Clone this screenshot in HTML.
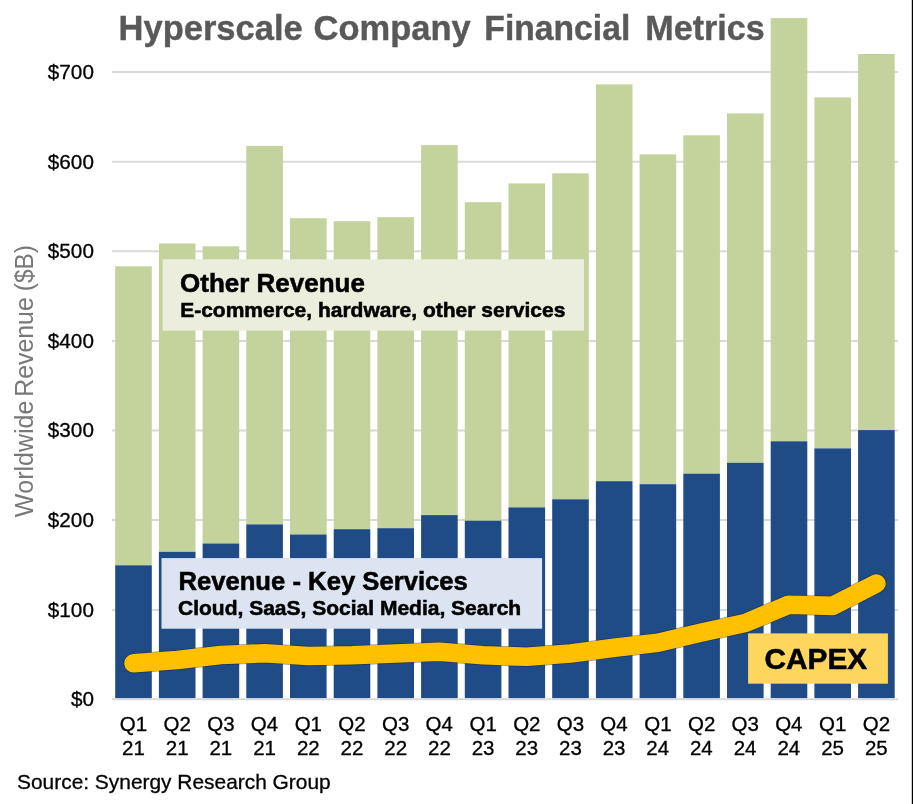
<!DOCTYPE html>
<html><head><meta charset="utf-8"><title>Hyperscale Company Financial Metrics</title>
<style>
html,body{margin:0;padding:0;background:#fff;}
body{width:913px;height:804px;overflow:hidden;}
svg{display:block;}
text{font-family:"Liberation Sans",Arial,sans-serif;font-kerning:none;}
.b{stroke:#000;stroke-width:0.55px;}
.t{stroke:#595959;stroke-width:0.4px;}
.r{stroke:#000;stroke-width:0.3px;}
</style></head><body>
<svg width="913" height="804" viewBox="0 0 913 804">
<rect x="0" y="0" width="913" height="804" fill="#fff"/>

<line x1="112" y1="72.0" x2="898" y2="72.0" stroke="#D9D9D9" stroke-width="2"/>
<line x1="112" y1="161.8" x2="898" y2="161.8" stroke="#D9D9D9" stroke-width="2"/>
<line x1="112" y1="251.2" x2="898" y2="251.2" stroke="#D9D9D9" stroke-width="2"/>
<line x1="112" y1="340.9" x2="898" y2="340.9" stroke="#D9D9D9" stroke-width="2"/>
<line x1="112" y1="430.6" x2="898" y2="430.6" stroke="#D9D9D9" stroke-width="2"/>
<line x1="112" y1="520.0" x2="898" y2="520.0" stroke="#D9D9D9" stroke-width="2"/>
<line x1="112" y1="609.9" x2="898" y2="609.9" stroke="#D9D9D9" stroke-width="2"/>
<rect x="115.2" y="266.3" width="36.6" height="299.0" fill="#C4D29B"/>
<rect x="115.2" y="565.3" width="36.6" height="133.0" fill="#1F4B86"/>
<rect x="158.9" y="243.5" width="36.6" height="308.3" fill="#C4D29B"/>
<rect x="158.9" y="551.8" width="36.6" height="146.5" fill="#1F4B86"/>
<rect x="202.6" y="246.3" width="36.6" height="297.2" fill="#C4D29B"/>
<rect x="202.6" y="543.5" width="36.6" height="154.8" fill="#1F4B86"/>
<rect x="246.3" y="145.9" width="36.6" height="378.5" fill="#C4D29B"/>
<rect x="246.3" y="524.4" width="36.6" height="173.9" fill="#1F4B86"/>
<rect x="290.0" y="218.2" width="36.6" height="316.3" fill="#C4D29B"/>
<rect x="290.0" y="534.5" width="36.6" height="163.8" fill="#1F4B86"/>
<rect x="333.7" y="221.2" width="36.6" height="308.0" fill="#C4D29B"/>
<rect x="333.7" y="529.2" width="36.6" height="169.1" fill="#1F4B86"/>
<rect x="377.4" y="217.2" width="36.6" height="311.0" fill="#C4D29B"/>
<rect x="377.4" y="528.2" width="36.6" height="170.1" fill="#1F4B86"/>
<rect x="421.1" y="145.1" width="36.6" height="370.0" fill="#C4D29B"/>
<rect x="421.1" y="515.1" width="36.6" height="183.2" fill="#1F4B86"/>
<rect x="464.8" y="202.2" width="36.6" height="318.5" fill="#C4D29B"/>
<rect x="464.8" y="520.7" width="36.6" height="177.6" fill="#1F4B86"/>
<rect x="508.5" y="183.4" width="36.6" height="324.0" fill="#C4D29B"/>
<rect x="508.5" y="507.4" width="36.6" height="190.9" fill="#1F4B86"/>
<rect x="552.2" y="173.3" width="36.6" height="326.0" fill="#C4D29B"/>
<rect x="552.2" y="499.3" width="36.6" height="199.0" fill="#1F4B86"/>
<rect x="595.9" y="84.4" width="36.6" height="396.8" fill="#C4D29B"/>
<rect x="595.9" y="481.2" width="36.6" height="217.1" fill="#1F4B86"/>
<rect x="639.6" y="154.4" width="36.6" height="329.8" fill="#C4D29B"/>
<rect x="639.6" y="484.2" width="36.6" height="214.1" fill="#1F4B86"/>
<rect x="683.3" y="135.3" width="36.6" height="338.4" fill="#C4D29B"/>
<rect x="683.3" y="473.7" width="36.6" height="224.6" fill="#1F4B86"/>
<rect x="727.0" y="113.4" width="36.6" height="349.4" fill="#C4D29B"/>
<rect x="727.0" y="462.8" width="36.6" height="235.5" fill="#1F4B86"/>
<rect x="770.7" y="18.1" width="36.6" height="423.2" fill="#C4D29B"/>
<rect x="770.7" y="441.3" width="36.6" height="257.0" fill="#1F4B86"/>
<rect x="814.4" y="97.4" width="36.6" height="351.0" fill="#C4D29B"/>
<rect x="814.4" y="448.4" width="36.6" height="249.9" fill="#1F4B86"/>
<rect x="858.1" y="54.0" width="36.6" height="376.1" fill="#C4D29B"/>
<rect x="858.1" y="430.1" width="36.6" height="268.2" fill="#1F4B86"/>
<line x1="112" y1="699.3" x2="898" y2="699.3" stroke="#D9D9D9" stroke-width="2"/>
<rect x="162.6" y="259.3" width="421.4" height="71.3" fill="#EBEEDC"/>
<text x="180.03" y="291.7" font-size="26" font-weight="bold" fill="#000000" class="b">Other Revenue</text>
<text x="180.20" y="316.7" font-size="21" font-weight="bold" fill="#000000" class="b">E-commerce, hardware, other services</text>
<rect x="161.5" y="558.1" width="380.6" height="70.6" fill="#DCE4F2"/>
<text x="178.38" y="589.6" font-size="26" font-weight="bold" fill="#000000" textLength="289.47" lengthAdjust="spacingAndGlyphs" class="b">Revenue - Key Services</text>
<text x="178.04" y="614.6" font-size="21" font-weight="bold" fill="#000000" class="b">Cloud, SaaS, Social Media, Search</text>
<path d="M133.50,663.30 L177.20,660.00 L220.90,655.00 L264.60,653.30 L308.30,656.00 L352.00,655.30 L395.70,653.50 L439.40,651.80 L483.10,655.20 L526.80,656.80 L570.50,653.50 L614.20,647.80 L657.90,642.80 L701.60,632.50 L745.30,623.00 L789.00,604.70 L832.70,605.90 L876.40,583.50" fill="none" stroke="rgba(20,25,40,0.45)" stroke-width="20" stroke-linejoin="round" stroke-linecap="round"/>
<path d="M133.50,663.30 L177.20,660.00 L220.90,655.00 L264.60,653.30 L308.30,656.00 L352.00,655.30 L395.70,653.50 L439.40,651.80 L483.10,655.20 L526.80,656.80 L570.50,653.50 L614.20,647.80 L657.90,642.80 L701.60,632.50 L745.30,623.00 L789.00,604.70 L832.70,605.90 L876.40,583.50" fill="none" stroke="#FFC000" stroke-width="18.6" stroke-linejoin="round" stroke-linecap="round"/>
<rect x="748.1" y="633.4" width="139.8" height="50.3" fill="#FED65E"/>
<text x="764.58" y="668.8" font-size="30" font-weight="bold" fill="#000000" textLength="102.58" lengthAdjust="spacingAndGlyphs" class="b">CAPEX</text>
<text x="47.86" y="78.7" font-size="20.7" fill="#000000" class="r">$700</text>
<text x="47.86" y="168.5" font-size="20.7" fill="#000000" class="r">$600</text>
<text x="47.86" y="257.9" font-size="20.7" fill="#000000" class="r">$500</text>
<text x="47.86" y="347.6" font-size="20.7" fill="#000000" class="r">$400</text>
<text x="47.86" y="437.3" font-size="20.7" fill="#000000" class="r">$300</text>
<text x="47.86" y="526.7" font-size="20.7" fill="#000000" class="r">$200</text>
<text x="47.86" y="616.6" font-size="20.7" fill="#000000" class="r">$100</text>
<text x="70.88" y="706.0" font-size="20.7" fill="#000000" class="r">$0</text>
<text x="119.84" y="730.8" font-size="20.5" fill="#000000" class="r">Q1</text>
<text x="122.08" y="754.9" font-size="20.5" fill="#000000" class="r">21</text>
<text x="163.56" y="730.8" font-size="20.5" fill="#000000" class="r">Q2</text>
<text x="165.78" y="754.9" font-size="20.5" fill="#000000" class="r">21</text>
<text x="207.19" y="730.8" font-size="20.5" fill="#000000" class="r">Q3</text>
<text x="209.48" y="754.9" font-size="20.5" fill="#000000" class="r">21</text>
<text x="250.74" y="730.8" font-size="20.5" fill="#000000" class="r">Q4</text>
<text x="253.18" y="754.9" font-size="20.5" fill="#000000" class="r">21</text>
<text x="294.64" y="730.8" font-size="20.5" fill="#000000" class="r">Q1</text>
<text x="296.90" y="754.9" font-size="20.5" fill="#000000" class="r">22</text>
<text x="338.36" y="730.8" font-size="20.5" fill="#000000" class="r">Q2</text>
<text x="340.60" y="754.9" font-size="20.5" fill="#000000" class="r">22</text>
<text x="381.99" y="730.8" font-size="20.5" fill="#000000" class="r">Q3</text>
<text x="384.30" y="754.9" font-size="20.5" fill="#000000" class="r">22</text>
<text x="425.54" y="730.8" font-size="20.5" fill="#000000" class="r">Q4</text>
<text x="428.00" y="754.9" font-size="20.5" fill="#000000" class="r">22</text>
<text x="469.44" y="730.8" font-size="20.5" fill="#000000" class="r">Q1</text>
<text x="471.63" y="754.9" font-size="20.5" fill="#000000" class="r">23</text>
<text x="513.16" y="730.8" font-size="20.5" fill="#000000" class="r">Q2</text>
<text x="515.33" y="754.9" font-size="20.5" fill="#000000" class="r">23</text>
<text x="556.79" y="730.8" font-size="20.5" fill="#000000" class="r">Q3</text>
<text x="559.03" y="754.9" font-size="20.5" fill="#000000" class="r">23</text>
<text x="600.34" y="730.8" font-size="20.5" fill="#000000" class="r">Q4</text>
<text x="602.73" y="754.9" font-size="20.5" fill="#000000" class="r">23</text>
<text x="644.24" y="730.8" font-size="20.5" fill="#000000" class="r">Q1</text>
<text x="646.28" y="754.9" font-size="20.5" fill="#000000" class="r">24</text>
<text x="687.96" y="730.8" font-size="20.5" fill="#000000" class="r">Q2</text>
<text x="689.98" y="754.9" font-size="20.5" fill="#000000" class="r">24</text>
<text x="731.59" y="730.8" font-size="20.5" fill="#000000" class="r">Q3</text>
<text x="733.68" y="754.9" font-size="20.5" fill="#000000" class="r">24</text>
<text x="775.14" y="730.8" font-size="20.5" fill="#000000" class="r">Q4</text>
<text x="777.38" y="754.9" font-size="20.5" fill="#000000" class="r">24</text>
<text x="819.04" y="730.8" font-size="20.5" fill="#000000" class="r">Q1</text>
<text x="821.21" y="754.9" font-size="20.5" fill="#000000" class="r">25</text>
<text x="862.76" y="730.8" font-size="20.5" fill="#000000" class="r">Q2</text>
<text x="864.91" y="754.9" font-size="20.5" fill="#000000" class="r">25</text>
<g transform="translate(32.8,0) rotate(-90)">
<text x="-517.31" y="0" font-size="24.9" fill="#787878" textLength="116.72" lengthAdjust="spacingAndGlyphs">Worldwide</text>
<text x="-396.84" y="0" font-size="24.9" fill="#787878">Revenue</text>
<text x="-291.22" y="0" font-size="24.9" fill="#787878" textLength="46.24" lengthAdjust="spacingAndGlyphs">($B)</text>
</g>
<text x="118.59" y="39.9" font-size="34.5" font-weight="bold" fill="#595959" class="t">Hyperscale</text>
<text x="313.58" y="39.9" font-size="34.5" font-weight="bold" fill="#595959" class="t">Company</text>
<text x="484.35" y="39.9" font-size="34.5" font-weight="bold" fill="#595959" textLength="145.94" lengthAdjust="spacingAndGlyphs" class="t">Financial</text>
<text x="645.32" y="39.9" font-size="34.5" font-weight="bold" fill="#595959" textLength="119.38" lengthAdjust="spacingAndGlyphs" class="t">Metrics</text>
<text x="17.05" y="788.9" font-size="21" fill="#000000" textLength="313.63" lengthAdjust="spacingAndGlyphs" class="r">Source: Synergy Research Group</text>
<rect x="911.8" y="0" width="1.2" height="804" fill="#000"/>
</svg>
</body></html>
